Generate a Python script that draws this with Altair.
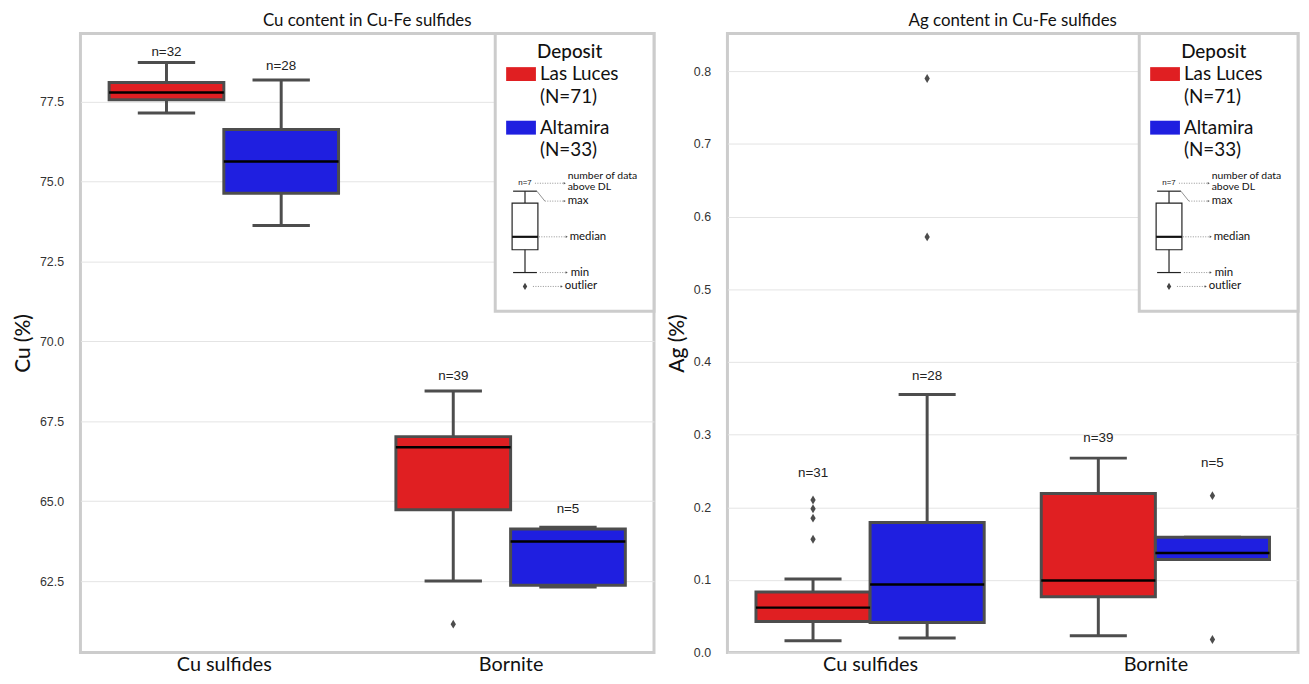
import altair as alt
import pandas as pd

# ---------------- data ----------------
categories = ["Cu sulfides", "Bornite"]
deposits = ["Las Luces", "Altamira"]
deposit_totals = ["(N=71)", "(N=33)"]
deposit_colors = ["#e01f22", "#1f1fe0"]

group_cat = ["Cu sulfides", "Cu sulfides", "Bornite", "Bornite"]
group_dep = ["Las Luces", "Altamira", "Las Luces", "Altamira"]

# Cu (%)
cu_lo = [77.15, 73.63, 62.50, 62.31]
cu_q1 = [77.56, 74.64, 64.73, 62.37]
cu_med = [77.79, 75.63, 66.69, 63.74]
cu_q3 = [78.10, 76.63, 67.02, 64.13]
cu_hi = [78.73, 78.18, 68.45, 64.18]
cu_n = [32, 28, 39, 5]
cu_n_label_at = [79.06, 78.62, 68.93, 64.74]
cu_out_cat = ["Bornite"]
cu_out_dep = ["Las Luces"]
cu_out_val = [61.15]
cu_ticks = [62.5, 65.0, 67.5, 70.0, 72.5, 75.0, 77.5]
cu_domain = [60.26, 79.64]

# Ag (%)
ag_lo = [0.0164, 0.020, 0.0232, 0.128]
ag_q1 = [0.0428, 0.0414, 0.0769, 0.128]
ag_med = [0.0619, 0.0938, 0.0992, 0.137]
ag_q3 = [0.0833, 0.179, 0.2188, 0.1588]
ag_hi = [0.1014, 0.355, 0.2676, 0.1588]
ag_n = [31, 28, 39, 5]
ag_n_label_at = [0.247, 0.381, 0.295, 0.261]
ag_out_cat = ["Cu sulfides"] * 6 + ["Bornite"] * 2
ag_out_dep = ["Las Luces"] * 4 + ["Altamira"] * 2 + ["Altamira"] * 2
ag_out_val = [0.210, 0.198, 0.185, 0.156, 0.790, 0.572, 0.216, 0.018]
ag_ticks = [0.0, 0.1, 0.2, 0.3, 0.4, 0.5, 0.6, 0.7, 0.8]
ag_domain = [0.0, 0.852]

# ---------------- styling ----------------
GRAY = "#4d4d4d"
FRAME = "#cccccc"
SANS = "Lato"
NUMF = "Liberation Sans"
DIAMOND = "M0,-1L0.6,0L0,1L-0.6,0Z"
ONE = pd.DataFrame({"k": [0]})


def dodge(dep):
    return -0.2 if dep == deposits[0] else 0.2


def rule(x, y, x2=None, y2=None, color="#222", width=1.0, dash=None):
    kw = dict(color=color, strokeWidth=width)
    if dash:
        kw["strokeDash"] = dash
    enc = dict(x=alt.value(x), y=alt.value(y))
    if x2 is not None:
        enc["x2"] = alt.value(x2)
    if y2 is not None:
        enc["y2"] = alt.value(y2)
    return alt.Chart(ONE).mark_rule(**kw).encode(**enc)


def text(x, y, s, size=11, align="left", color="#111", font=SANS, weight="normal"):
    return alt.Chart(ONE).mark_text(
        align=align, baseline="middle", fontSize=size, font=font, color=color, fontWeight=weight
    ).encode(x=alt.value(x), y=alt.value(y), text=alt.value(s))


def rect(x, y, x2, y2, fill, stroke=None, sw=0):
    kw = dict(fill=fill)
    if stroke:
        kw["stroke"] = stroke
        kw["strokeWidth"] = sw
    return alt.Chart(ONE).mark_rect(**kw).encode(
        x=alt.value(x), x2=alt.value(x2), y=alt.value(y), y2=alt.value(y2)
    )


def pointer(x1, x2, y):
    return [
        rule(x1, y, x2=x2, color="#777", width=0.8, dash=[1, 1.5]),
        alt.Chart(ONE).mark_point(shape="triangle-right", filled=True, size=6, color="#555", opacity=1)
        .encode(x=alt.value(x2), y=alt.value(y)),
    ]


def legend(W):
    L = W - 160
    layers = [rect(L, 0, W, 280, "white", FRAME, 3)]
    layers.append(text(L + 75, 19, "Deposit", size=19, align="center", weight=500))
    for i, (dep, tot, col) in enumerate(zip(deposits, deposit_totals, deposit_colors)):
        oy = i * 54
        layers.append(rect(L + 11, 34 + oy, L + 41, 48 + oy, col))
        layers.append(text(L + 45, 41 + oy, dep, size=19))
        layers.append(text(L + 45, 64 + oy, tot, size=19))
    cx = L + 30
    layers.append(text(cx, 151, "n=7", size=8, align="center", font=NUMF))
    layers += pointer(L + 40, L + 70, 151)
    layers.append(text(L + 73, 144, "number of data", size=10.5))
    layers.append(text(L + 73, 155, "above DL", size=10.5))
    layers.append(rule(L + 18, 159, x2=L + 42, color="#222", width=1.2))
    layers.append(rule(cx, 159, y2=171, color="#222", width=1.2))
    layers.append(rule(L + 42, 159, x2=L + 50, y2=169, color="#777", width=0.8))
    layers += pointer(L + 50, L + 70, 169)
    layers.append(text(L + 73, 169, "max", size=11.5))
    layers.append(rect(L + 17, 171, L + 43, 218, "white", "#222", 1.2))
    layers.append(rule(L + 17, 205, x2=L + 43, color="#111", width=2.2))
    layers += pointer(L + 44, L + 72, 205)
    layers.append(text(L + 75, 205, "median", size=11.5))
    layers.append(rule(cx, 218, y2=241, color="#222", width=1.2))
    layers.append(rule(L + 18, 241, x2=L + 42, color="#222", width=1.2))
    layers += pointer(L + 45, L + 72, 241)
    layers.append(text(L + 76, 241, "min", size=11.5))
    layers.append(
        alt.Chart(ONE).mark_point(shape=DIAMOND, filled=True, size=55, color="#444", opacity=1)
        .encode(x=alt.value(cx), y=alt.value(255))
    )
    layers += pointer(L + 38, L + 67, 255)
    layers.append(text(L + 70, 255, "outlier", size=11.5))
    return layers


def panel(title, ytitle, lo, q1, med, q3, hi, n, nat, ocat, odep, oval, ticks, domain, W, H, tpad):
    rows = []
    for c, d, a, b, m, e, f, k, t in zip(group_cat, group_dep, lo, q1, med, q3, hi, n, nat):
        p = categories.index(c) + dodge(d)
        rows.append(dict(cat=c, dep=d, pos=p, xl=p - 0.2, xr=p + 0.2, cl=p - 0.1, cr=p + 0.1,
                         lo=a, q1=b, med=m, q3=e, hi=f, nlab=f"n={k}", nat=t))
    df = pd.DataFrame(rows)
    odf = pd.DataFrame({"cat": ocat, "dep": odep, "val": oval})
    odf["pos"] = [categories.index(c) + dodge(d) for c, d in zip(ocat, odep)]

    xs = alt.Scale(domain=[-0.5, 1.5], nice=False, zero=False)
    ys = alt.Scale(domain=domain, nice=False, zero=False)
    xaxis = alt.Axis(values=[0, 1], labelExpr="datum.value == 0 ? 'Cu sulfides' : 'Bornite'",
                     title=None, grid=False, ticks=False, domain=False, labelFont=SANS,
                     labelFontSize=20, labelColor="#111", labelPadding=2)
    yaxis = alt.Axis(values=ticks, format=".1f", title=ytitle, grid=True, gridColor="#e4e4e4",
                     gridWidth=1, ticks=False, domain=False, labelFont=NUMF, labelFontSize=12.5,
                     labelColor="#333", labelPadding=17, titleFont=SANS, titleFontSize=21,
                     titleFontWeight=500, titleColor="#111", titlePadding=tpad)

    base = alt.Chart(df)
    whisk = base.mark_rule(color=GRAY, strokeWidth=3).encode(
        x=alt.X("pos:Q", scale=xs, axis=xaxis), y=alt.Y("lo:Q", scale=ys, axis=yaxis), y2="hi:Q")
    box = base.mark_rect(stroke=GRAY, strokeWidth=3).encode(
        x="xl:Q", x2="xr:Q", y="q1:Q", y2="q3:Q",
        color=alt.Color("dep:N", scale=alt.Scale(domain=deposits, range=deposit_colors), legend=None))
    medl = base.mark_rule(color="black", strokeWidth=2.5).encode(x="xl:Q", x2="xr:Q", y="med:Q")
    cap_lo = base.mark_rule(color=GRAY, strokeWidth=3).encode(x="cl:Q", x2="cr:Q", y="lo:Q")
    cap_hi = base.mark_rule(color=GRAY, strokeWidth=3).encode(x="cl:Q", x2="cr:Q", y="hi:Q")
    outs = alt.Chart(odf).mark_point(shape=DIAMOND, filled=True, size=80, color=GRAY, opacity=1).encode(
        x="pos:Q", y="val:Q")
    nl = base.mark_text(font=NUMF, fontSize=13.5, color="#222", baseline="middle").encode(
        x="pos:Q", y="nat:Q", text="nlab:N")

    return alt.layer(whisk, box, medl, cap_lo, cap_hi, outs, nl, *legend(W)).properties(
        width=W, height=H,
        title=alt.TitleParams(title, font=SANS, fontSize=17, fontWeight="normal", color="#111", offset=2))


left = panel("Cu content in Cu-Fe sulfides", "Cu (%)", cu_lo, cu_q1, cu_med, cu_q3, cu_hi, cu_n,
             cu_n_label_at, cu_out_cat, cu_out_dep, cu_out_val, cu_ticks, cu_domain, 578, 624, 6)
right = panel("Ag content in Cu-Fe sulfides", "Ag (%)", ag_lo, ag_q1, ag_med, ag_q3, ag_hi, ag_n,
              ag_n_label_at, ag_out_cat, ag_out_dep, ag_out_val, ag_ticks, ag_domain, 575, 624, 6)

chart = alt.hconcat(left, right, spacing=8).resolve_scale(
    x="independent", y="independent", color="shared"
).properties(padding={"left": 3, "top": 0, "right": 0, "bottom": 0}).configure_view(
    stroke=FRAME, strokeWidth=3)

chart.save("out.html", embed_options={"renderer": "svg", "actions": False})
